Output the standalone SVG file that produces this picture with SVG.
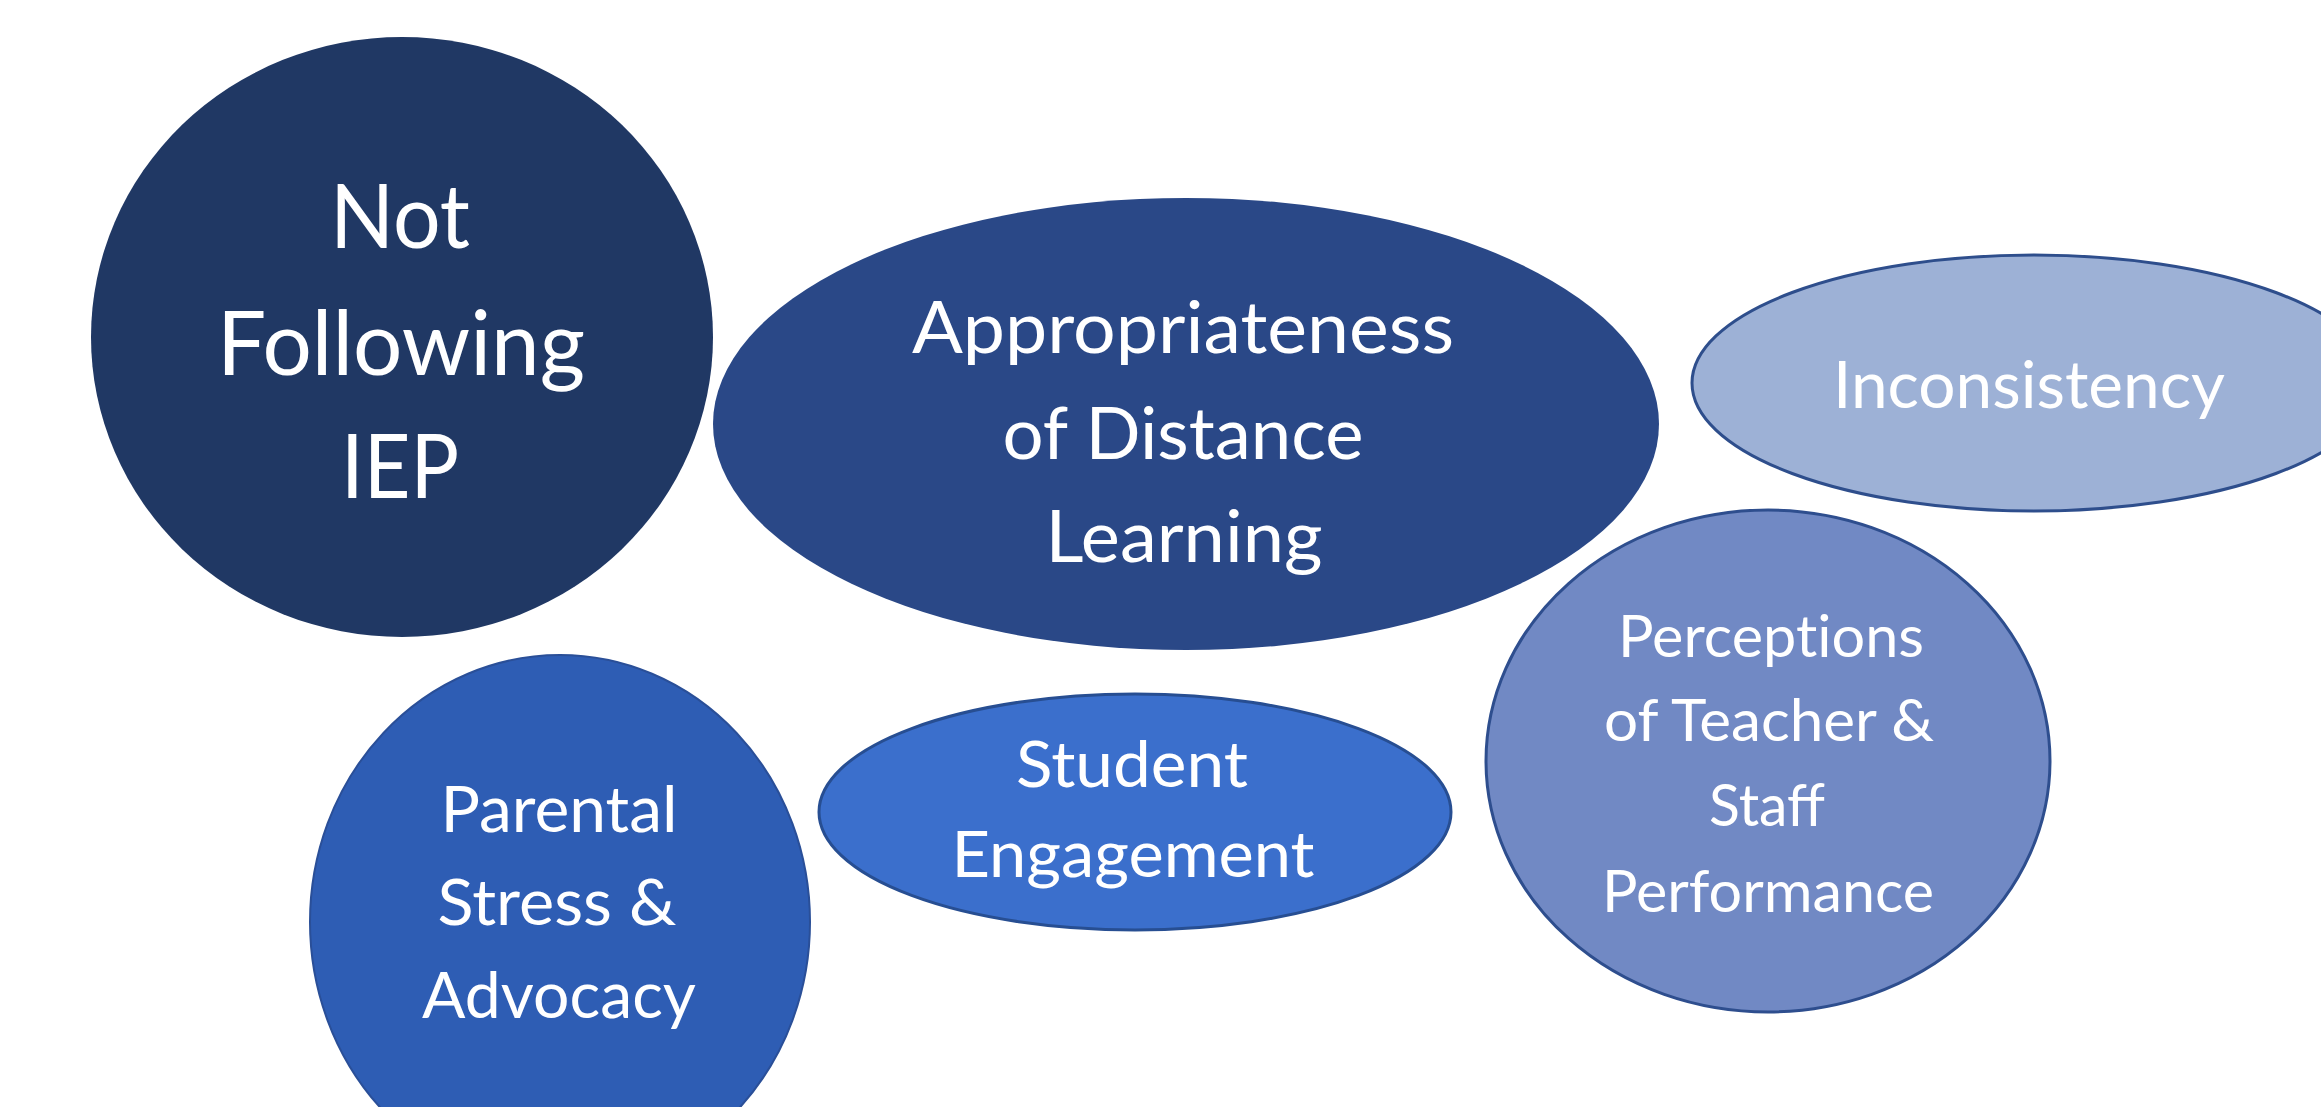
<svg xmlns="http://www.w3.org/2000/svg" width="2321" height="1107" viewBox="0 0 2321 1107">
<style>
.lbl{font-family:Lato,"Open Sans","Liberation Sans",sans-serif;fill:#FFFFFF;text-anchor:middle;}
.nolig{font-variant-ligatures:no-common-ligatures;}
.edge{stroke-width:3;}
</style>
<rect x="0" y="0" width="2321" height="1107" fill="#FFFFFF"/>
<g id="connectors"></g>
<g id="node-not-following-iep">
<ellipse cx="402" cy="337" rx="311" ry="300" fill="#203864"/>
<text class="lbl" x="400" y="248" font-size="90" textLength="140" lengthAdjust="spacingAndGlyphs">Not</text>
<text class="lbl" x="401" y="375" font-size="90" textLength="368" lengthAdjust="spacingAndGlyphs">Following</text>
<text class="lbl" x="400" y="498" font-size="90" textLength="118" lengthAdjust="spacingAndGlyphs">IEP</text>
</g>
<g id="node-appropriateness">
<ellipse cx="1186" cy="424" rx="473" ry="226" fill="#2A4887"/>
<text class="lbl" x="1183" y="353" font-size="72" textLength="542" lengthAdjust="spacingAndGlyphs">Appropriateness</text>
<text class="lbl" x="1183" y="459" font-size="72" textLength="361" lengthAdjust="spacingAndGlyphs">of Distance</text>
<text class="lbl" x="1184" y="562" font-size="72" textLength="277" lengthAdjust="spacingAndGlyphs">Learning</text>
</g>
<g id="node-inconsistency">
<ellipse cx="2034" cy="383" rx="342" ry="128" fill="#9DB1D6" stroke="#2E4E8C" class="edge"/>
<text class="lbl" x="2029" y="408" font-size="66" textLength="392" lengthAdjust="spacingAndGlyphs">Inconsistency</text>
</g>
<g id="node-perceptions">
<ellipse cx="1768" cy="761" rx="282" ry="251" fill="#7189C4" stroke="#2E4E8E" class="edge"/>
<text class="lbl nolig" x="1771" y="657" font-size="58" textLength="306" lengthAdjust="spacingAndGlyphs">Perceptions</text>
<text class="lbl" x="1769" y="741" font-size="58" textLength="330" lengthAdjust="spacingAndGlyphs">of Teacher &amp;</text>
<text class="lbl" x="1767" y="826" font-size="58" textLength="116" lengthAdjust="spacingAndGlyphs">Staff</text>
<text class="lbl" x="1768" y="912" font-size="58" textLength="332" lengthAdjust="spacingAndGlyphs">Performance</text>
</g>
<g id="node-parental">
<ellipse cx="560" cy="922" rx="250" ry="267" fill="#2E5DB4" stroke="#2A4F98" stroke-width="2"/>
<text class="lbl" x="559" y="832" font-size="64" textLength="237" lengthAdjust="spacingAndGlyphs">Parental</text>
<text class="lbl" x="557" y="925" font-size="64" textLength="239" lengthAdjust="spacingAndGlyphs">Stress &amp;</text>
<text class="lbl" x="559" y="1018" font-size="64" textLength="274" lengthAdjust="spacingAndGlyphs">Advocacy</text>
</g>
<g id="node-student-engagement">
<ellipse cx="1135" cy="812" rx="316" ry="118" fill="#3B6FCC" stroke="#274E92" class="edge"/>
<text class="lbl" x="1132" y="787" font-size="64" textLength="232" lengthAdjust="spacingAndGlyphs">Student</text>
<text class="lbl" x="1133" y="877" font-size="64" textLength="363" lengthAdjust="spacingAndGlyphs">Engagement</text>
</g>
</svg>
